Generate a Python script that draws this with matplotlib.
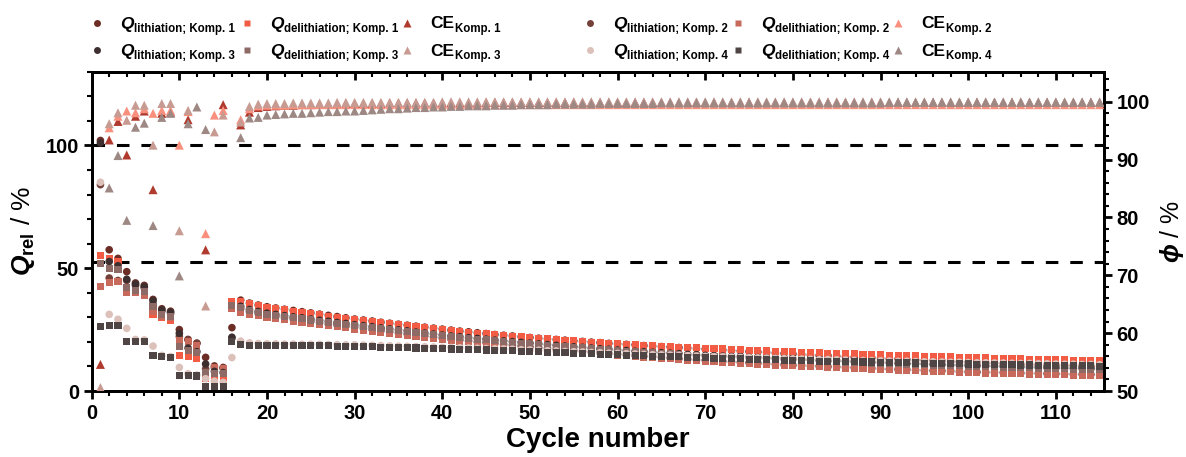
import numpy as np
import matplotlib.pyplot as plt
from matplotlib.lines import Line2D
from matplotlib.ticker import MultipleLocator

plt.rcParams['font.family'] = 'Liberation Sans'
plt.rcParams['font.weight'] = 'bold'
plt.rcParams['mathtext.fontset'] = 'custom'
plt.rcParams['mathtext.rm'] = 'Liberation Sans:bold'
plt.rcParams['mathtext.bf'] = 'Liberation Sans:bold'
plt.rcParams['mathtext.it'] = 'Liberation Sans:italic:bold'

nan = np.nan

# --- data ---
cycles = np.arange(1, 116)

# Q lithiation / delithiation in %, cycle 1..115
ql_k1 = [102.0, 57.5, 54.0, 48.6, 44.0, 43.0, 37.3, 33.5, 32.5, 25.0,
         21.0, 19.5, 13.7, 10.2, 9.6, 25.8, 37.0, 35.8, 35.0, 34.3,
         33.8, 33.3, 32.8, 32.3, 31.8, 31.3, 30.8, 30.3, 29.8, 29.3,
         28.9, 28.5, 28.0, 27.6, 27.2, 26.8, 26.4, 26.0, 25.6, 25.2,
         24.8, 24.4, 24.1, 23.7, 23.4, 23.0, 22.7, 22.4, 22.1, 21.8,
         21.5, 21.2, 21.0, 20.7, 20.4, 20.2, 19.9, 19.7, 19.4, 19.2,
         19.0, 18.8, 18.5, 18.3, 18.1, 17.9, 17.7, 17.5, 17.3, 17.1,
         16.9, 16.7, 16.5, 16.3, 16.1, 15.9, 15.7, 15.5, 15.3, 15.1,
         14.9, 14.7, 14.5, 14.4, 14.2, 14.0, 13.8, 13.7, 13.5, 13.3,
         13.1, 13.0, 12.8, 12.6, 12.5, 12.3, 12.2, 12.0, 11.9, 11.7,
         11.6, 11.4, 11.3, 11.2, 11.0, 10.9, 10.8, 10.7, 10.6, 10.5,
         10.4, 10.3, 10.2, 10.1, 10.0]
qd_k1 = [55.0, 54.0, 52.7, 40.5, 40.5, 39.5, 31.0, 29.8, 28.8, 14.5,
         14.0, 13.3, 5.2, 5.2, 5.2, 36.5, 36.4, 35.5, 34.7, 34.0,
         33.5, 33.0, 32.5, 32.0, 31.5, 31.0, 30.5, 30.0, 29.5, 29.0,
         28.6, 28.2, 27.8, 27.4, 27.0, 26.6, 26.2, 25.8, 25.4, 25.0,
         24.6, 24.3, 23.9, 23.6, 23.2, 22.9, 22.6, 22.3, 22.0, 21.7,
         21.4, 21.2, 20.9, 20.7, 20.4, 20.2, 19.9, 19.7, 19.4, 19.2,
         19.0, 18.8, 18.6, 18.4, 18.2, 18.0, 17.9, 17.7, 17.6, 17.4,
         17.2, 17.1, 16.9, 16.8, 16.6, 16.5, 16.3, 16.2, 16.0, 15.9,
         15.8, 15.7, 15.5, 15.4, 15.3, 15.2, 15.1, 14.9, 14.8, 14.7,
         14.6, 14.5, 14.4, 14.3, 14.2, 14.1, 14.0, 13.9, 13.8, 13.7,
         13.6, 13.5, 13.4, 13.3, 13.2, 13.1, 13.0, 13.0, 12.9, 12.8,
         12.7, 12.6, 12.6, 12.5, 12.4]
ql_k2 = [84.0, 46.0, 45.0, 45.0, 43.0, 42.0, 35.5, 32.5, 31.5, 22.2,
         20.8, 19.4, 9.0, 9.5, 9.2, 21.5, 33.5, 32.3, 31.5, 30.8,
         30.3, 29.8, 29.3, 28.8, 28.3, 27.8, 27.3, 26.9, 26.4, 26.0,
         25.5, 25.0, 24.6, 24.1, 23.7, 23.2, 22.8, 22.4, 21.9, 21.5,
         21.1, 20.8, 20.4, 20.0, 19.7, 19.4, 19.0, 18.7, 18.3, 18.0,
         17.7, 17.4, 17.1, 16.8, 16.5, 16.2, 15.9, 15.6, 15.3, 15.0,
         14.7, 14.5, 14.2, 14.0, 13.7, 13.5, 13.2, 13.0, 12.7, 12.5,
         12.3, 12.1, 11.9, 11.7, 11.5, 11.3, 11.1, 10.9, 10.7, 10.5,
         10.4, 10.2, 10.1, 9.9, 9.8, 9.6, 9.5, 9.3, 9.2, 9.0,
         8.9, 8.8, 8.7, 8.5, 8.4, 8.3, 8.2, 8.1, 7.9, 7.8,
         7.7, 7.6, 7.6, 7.5, 7.4, 7.3, 7.2, 7.2, 7.1, 7.0,
         6.9, 6.8, 6.8, 6.7, 6.6]
qd_k2 = [42.5, 44.0, 44.6, 40.2, 40.0, 38.9, 32.5, 30.5, 30.0, 20.5,
         20.0, 18.5, 7.2, 9.5, 9.0, 33.6, 32.0, 31.3, 30.6, 30.0,
         29.5, 29.0, 28.5, 28.0, 27.5, 27.0, 26.6, 26.1, 25.7, 25.2,
         24.8, 24.3, 23.9, 23.5, 23.1, 22.7, 22.3, 21.9, 21.5, 21.1,
         20.7, 20.3, 20.0, 19.6, 19.3, 18.9, 18.6, 18.3, 17.9, 17.6,
         17.3, 17.0, 16.7, 16.4, 16.1, 15.8, 15.5, 15.2, 14.9, 14.6,
         14.3, 14.1, 13.8, 13.6, 13.3, 13.1, 12.8, 12.6, 12.4, 12.2,
         12.0, 11.8, 11.6, 11.4, 11.2, 11.0, 10.8, 10.6, 10.4, 10.2,
         10.1, 9.9, 9.8, 9.6, 9.5, 9.3, 9.2, 9.0, 8.9, 8.7,
         8.6, 8.5, 8.4, 8.2, 8.1, 8.0, 7.9, 7.8, 7.6, 7.5,
         7.4, 7.3, 7.3, 7.2, 7.1, 7.0, 6.9, 6.9, 6.8, 6.7,
         6.6, 6.5, 6.5, 6.4, 6.3]
ql_k3 = [101.0, 52.7, 51.0, 45.5, 43.5, 42.5, 36.8, 33.0, 32.0, 23.5,
         17.5, 16.0, 11.0, 8.0, 7.5, 21.9, 34.5, 33.2, 32.4, 31.7,
         31.2, 30.7, 30.2, 29.8, 29.3, 28.8, 28.4, 27.9, 27.5, 27.0,
         26.6, 26.2, 25.7, 25.3, 24.9, 24.5, 24.0, 23.6, 23.2, 22.8,
         22.4, 22.1, 21.7, 21.4, 21.1, 20.7, 20.4, 20.1, 19.8, 19.5,
         19.2, 18.9, 18.6, 18.3, 18.0, 17.8, 17.5, 17.2, 17.0, 16.7,
         16.5, 16.2, 16.0, 15.8, 15.6, 15.4, 15.2, 14.9, 14.7, 14.5,
         14.3, 14.2, 14.0, 13.9, 13.7, 13.6, 13.4, 13.3, 13.1, 13.0,
         12.8, 12.7, 12.5, 12.4, 12.3, 12.1, 12.0, 11.9, 11.7, 11.6,
         11.5, 11.4, 11.2, 11.1, 11.0, 10.9, 10.8, 10.6, 10.5, 10.4,
         10.3, 10.2, 10.1, 10.0, 9.9, 9.8, 9.7, 9.6, 9.5, 9.4,
         9.3, 9.2, 9.2, 9.1, 9.0]
qd_k3 = [52.0, 50.0, 49.6, 42.0, 41.0, 40.5, 34.4, 31.0, 30.5, 18.0,
         16.5, 15.8, 7.5, 7.2, 7.0, 35.0, 34.0, 32.8, 32.0, 31.3,
         30.8, 30.3, 29.8, 29.4, 28.9, 28.4, 28.0, 27.5, 27.1, 26.6,
         26.2, 25.8, 25.3, 24.9, 24.5, 24.1, 23.7, 23.3, 22.9, 22.5,
         22.1, 21.8, 21.4, 21.1, 20.8, 20.4, 20.1, 19.8, 19.5, 19.2,
         18.9, 18.6, 18.3, 18.0, 17.7, 17.5, 17.2, 16.9, 16.7, 16.4,
         16.2, 15.9, 15.7, 15.5, 15.3, 15.1, 14.9, 14.6, 14.4, 14.2,
         14.0, 13.9, 13.7, 13.6, 13.4, 13.3, 13.1, 13.0, 12.8, 12.7,
         12.5, 12.4, 12.2, 12.1, 12.0, 11.8, 11.7, 11.6, 11.4, 11.3,
         11.2, 11.1, 10.9, 10.8, 10.7, 10.6, 10.5, 10.3, 10.2, 10.1,
         10.0, 9.9, 9.8, 9.7, 9.6, 9.5, 9.4, 9.3, 9.2, 9.1,
         9.0, 8.9, 8.9, 8.8, 8.7]
ql_k4 = [85.0, 31.2, 29.2, 25.5, 21.0, 20.8, 18.3, 14.5, 14.0, 9.6,
         7.0, 6.5, 5.0, 4.0, 3.5, 13.6, 20.3, 19.6, 19.3, 19.2,
         19.2, 19.1, 19.1, 19.0, 19.0, 19.0, 18.9, 18.9, 18.8, 18.8,
         18.7, 18.6, 18.5, 18.4, 18.3, 18.2, 18.1, 18.0, 17.9, 17.8,
         17.7, 17.6, 17.5, 17.4, 17.3, 17.2, 17.1, 17.0, 16.8, 16.7,
         16.6, 16.4, 16.3, 16.1, 16.0, 15.9, 15.7, 15.6, 15.4, 15.3,
         15.2, 15.1, 14.9, 14.8, 14.7, 14.6, 14.5, 14.4, 14.2, 14.1,
         14.0, 13.9, 13.8, 13.7, 13.6, 13.5, 13.4, 13.3, 13.2, 13.1,
         13.0, 12.9, 12.8, 12.8, 12.7, 12.6, 12.5, 12.4, 12.4, 12.3,
         12.2, 12.1, 12.1, 12.0, 11.9, 11.9, 11.8, 11.7, 11.7, 11.6,
         11.5, 11.5, 11.4, 11.4, 11.3, 11.2, 11.2, 11.1, 11.1, 11.0,
         10.9, 10.9, 10.8, 10.8, 10.7]
qd_k4 = [26.2, 26.6, 26.6, 20.1, 20.1, 20.1, 14.3, 14.0, 13.7, 6.5,
         6.4, 6.1, 1.8, 1.8, 1.8, 20.0, 18.8, 18.7, 18.7, 18.6,
         18.6, 18.6, 18.5, 18.5, 18.5, 18.4, 18.4, 18.3, 18.3, 18.2,
         18.1, 18.0, 17.9, 17.8, 17.7, 17.6, 17.5, 17.4, 17.3, 17.2,
         17.1, 17.0, 16.9, 16.8, 16.7, 16.6, 16.5, 16.4, 16.2, 16.1,
         16.0, 15.8, 15.7, 15.5, 15.4, 15.3, 15.1, 15.0, 14.8, 14.7,
         14.6, 14.5, 14.3, 14.2, 14.1, 14.0, 13.9, 13.8, 13.6, 13.5,
         13.4, 13.3, 13.2, 13.1, 13.0, 12.9, 12.8, 12.7, 12.6, 12.5,
         12.4, 12.3, 12.2, 12.2, 12.1, 12.0, 11.9, 11.8, 11.8, 11.7,
         11.6, 11.5, 11.5, 11.4, 11.3, 11.3, 11.2, 11.1, 11.1, 11.0,
         10.9, 10.9, 10.8, 10.8, 10.7, 10.6, 10.6, 10.5, 10.5, 10.4,
         10.3, 10.3, 10.2, 10.2, 10.1]

# coulombic efficiency (right axis), nan = outside the plotted range
ce_k1 = [54.6, 93.4, 96.6, 90.8, 97.5, 98.4, 84.8, 98.0, 98.2, nan,
         96.9, nan, 74.4, nan, 99.5, nan, 96.0, 98.2, 99.0, 99.2,
         99.3, 99.4, 99.4, 99.5, 99.5, 99.6, 99.6, 99.6, 99.7, 99.7,
         99.7, 99.7, 99.7, 99.8, 99.8, 99.8, 99.8, 99.8, 99.8, 99.8,
         99.8, 99.8, 99.8, 99.8, 99.9, 99.9, 99.9, 99.9, 99.9, 99.9,
         99.9, 99.9, 99.9, 99.9, 99.9, 99.9, 99.9, 99.9, 99.9, 99.9,
         99.9, 99.9, 99.9, 99.9, 99.9, 99.9, 99.9, 99.9, 99.9, 99.9,
         99.9, 99.9, 99.9, 99.9, 99.9, 99.9, 99.9, 99.9, 99.9, 99.9,
         99.9, 99.9, 99.9, 99.9, 99.9, 99.9, 99.9, 99.9, 99.9, 99.9,
         99.9, 99.9, 99.9, 99.9, 99.9, 99.9, 99.9, 99.9, 99.9, 99.9,
         99.9, 99.9, 99.9, 99.9, 99.9, 99.9, 99.9, 99.9, 99.9, 99.9,
         99.9, 99.9, 99.9, 99.9, 99.9]
ce_k2 = [nan, 95.5, 97.5, 98.4, 98.1, 98.8, 98.0, 98.5, 98.5, 92.5,
         98.3, nan, 77.2, 97.7, 98.5, nan, 96.9, 98.8, 99.3, 99.4,
         99.4, 99.4, 99.5, 99.5, 99.5, 99.5, 99.5, 99.5, 99.5, 99.5,
         99.5, 99.5, 99.5, 99.5, 99.5, 99.5, 99.5, 99.5, 99.5, 99.5,
         99.5, 99.5, 99.5, 99.5, 99.5, 99.5, 99.5, 99.5, 99.5, 99.5,
         99.5, 99.5, 99.5, 99.5, 99.5, 99.5, 99.5, 99.5, 99.5, 99.5,
         99.5, 99.5, 99.5, 99.5, 99.5, 99.5, 99.5, 99.5, 99.5, 99.5,
         99.5, 99.5, 99.5, 99.5, 99.5, 99.5, 99.5, 99.5, 99.5, 99.5,
         99.5, 99.5, 99.5, 99.5, 99.5, 99.5, 99.5, 99.5, 99.5, 99.5,
         99.5, 99.5, 99.5, 99.5, 99.5, 99.5, 99.5, 99.5, 99.5, 99.5,
         99.5, 99.5, 99.5, 99.5, 99.5, 99.5, 99.5, 99.5, 99.5, 99.5,
         99.5, 99.5, 99.5, 99.5, 99.5]
ce_k3 = [50.6, 96.2, 98.1, 96.8, 99.4, 99.4, 92.5, 99.7, 99.7, 77.7,
         98.5, nan, 64.7, 94.8, 97.7, nan, 96.5, 99.2, 99.6, 99.7,
         99.7, 99.7, 99.8, 99.8, 99.8, 99.8, 99.8, 99.9, 99.9, 99.9,
         99.9, 99.9, 99.9, 99.9, 99.9, 99.9, 99.9, 99.9, 99.9, 100.0,
         100.0, 100.0, 100.0, 100.0, 100.0, 100.0, 100.0, 100.0, 100.0, 100.0,
         100.0, 100.0, 100.0, 100.0, 100.0, 100.0, 100.0, 100.0, 100.0, 100.0,
         100.0, 100.0, 100.0, 100.0, 100.0, 100.0, 100.0, 100.0, 100.0, 100.0,
         100.0, 100.0, 100.0, 100.0, 100.0, 100.0, 100.0, 100.0, 100.0, 100.0,
         100.0, 100.0, 100.0, 100.0, 100.0, 100.0, 100.0, 100.0, 100.0, 100.0,
         100.0, 100.0, 100.0, 100.0, 100.0, 100.0, 100.0, 100.0, 100.0, 100.0,
         100.0, 100.0, 100.0, 100.0, 100.0, 100.0, 100.0, 100.0, 100.0, 100.0,
         100.0, 100.0, 100.0, 100.0, 100.0]
ce_k4 = [nan, 85.1, 90.7, 79.5, 95.6, 96.3, 78.6, 97.3, 98.0, 69.9,
         96.2, 99.1, 95.2, nan, nan, nan, 93.8, 97.2, 97.3, 97.7,
         97.8, 97.9, 98.0, 98.0, 98.1, 98.2, 98.3, 98.3, 98.4, 98.4,
         98.5, 98.6, 98.7, 98.8, 98.8, 98.9, 99.0, 99.0, 99.1, 99.1,
         99.2, 99.2, 99.3, 99.3, 99.3, 99.4, 99.4, 99.4, 99.5, 99.5,
         99.5, 99.5, 99.6, 99.6, 99.6, 99.6, 99.6, 99.7, 99.7, 99.7,
         99.7, 99.7, 99.7, 99.7, 99.8, 99.8, 99.8, 99.8, 99.8, 99.8,
         99.8, 99.8, 99.8, 99.8, 99.8, 99.8, 99.8, 99.8, 99.8, 99.8,
         99.8, 99.8, 99.8, 99.8, 99.8, 99.8, 99.8, 99.8, 99.8, 99.8,
         99.9, 99.9, 99.9, 99.9, 99.9, 99.9, 99.9, 99.9, 99.9, 99.9,
         99.9, 99.9, 99.9, 99.9, 99.9, 99.9, 99.9, 99.9, 99.9, 99.9,
         99.9, 99.9, 99.9, 99.9, 99.9]

ref_lines = [100, 52.4]  # dashed guide lines (left axis units)

# colours: lithiation circle, delithiation square, CE triangle
colors = {
    1: ('#6b2d25', '#f25c45', '#b03a2e'),
    2: ('#74403a', '#c76a5c', '#f9907e'),
    3: ('#3d2f2f', '#8e6a66', '#c79a92'),
    4: ('#dcc0ba', '#4f4545', '#9e8884'),
}
q_lith = {1: ql_k1, 2: ql_k2, 3: ql_k3, 4: ql_k4}
q_delith = {1: qd_k1, 2: qd_k2, 3: qd_k3, 4: qd_k4}
ce = {1: ce_k1, 2: ce_k2, 3: ce_k3, 4: ce_k4}

W, H = 1186, 457
fig = plt.figure(figsize=(W / 100, H / 100), dpi=100)
ax = fig.add_axes([0.0773, 0.1444, 0.8536, 0.6987])
ax2 = ax.twinx()

for y in ref_lines:
    ax.axhline(y, color='black', lw=2.2, ls=(0, (4.1, 3.9)), zorder=1)

for k in [1, 2, 3, 4]:
    c_l, c_d, c_ce = colors[k]
    ax.scatter(cycles, q_lith[k], marker='o', s=30, color=c_l,
               edgecolors='none', zorder=3)
    ax.scatter(cycles, q_delith[k], marker='s', s=26, color=c_d,
               edgecolors='none', zorder=3)
    ax2.scatter(cycles, ce[k], marker='^', s=42, color=c_ce,
                edgecolors='none', zorder=3)

# legend drawn by hand: big symbol + small bold subscript
# rows: komp 1/2 on top, 3/4 below; marker x positions in pixels
leg_rows = [(22.7, 28.5, [1, 2]), (50.0, 55.8, [3, 4])]
leg_cols = [97, 247, 407, 590, 738, 898]
renderer = fig.canvas.get_renderer()


def fx(px):
    return px / W


def fy(py):
    return 1 - py / H


for y_mk, y_base, komps in leg_rows:
    for half, k in enumerate(komps):
        entries = [('o', 5, 'Q', 'italic', 'lithiation; Komp. %d' % k),
                   ('s', 5, 'Q', 'italic', 'delithiation; Komp. %d' % k),
                   ('^', 6, 'CE', 'normal', 'Komp. %d' % k)]
        for j, (mk, ms, main, st, sub) in enumerate(entries):
            mx = leg_cols[half * 3 + j]
            fig.add_artist(Line2D([fx(mx)], [fy(y_mk)], transform=fig.transFigure,
                                  ls='none', marker=mk, ms=ms, mec='none',
                                  color=colors[k][j]))
            t = fig.text(fx(mx + 23), fy(y_base), main, fontsize=12.5,
                         fontstyle=st, fontweight='bold', va='baseline')
            x1 = t.get_window_extent(renderer).x1
            fig.text(x1 / W + 0.0005, fy(y_base + 3.4), sub, fontsize=8.3,
                     fontweight='bold', va='baseline')

ax.set_xlim(0, 115.5)
ax.set_ylim(0, 130)
ax2.set_ylim(50, 105.2)

ax.xaxis.set_major_locator(MultipleLocator(10))
ax.xaxis.set_minor_locator(MultipleLocator(2))
ax.yaxis.set_major_locator(MultipleLocator(50))
ax.yaxis.set_minor_locator(MultipleLocator(10))
ax2.yaxis.set_major_locator(MultipleLocator(10))
ax2.yaxis.set_minor_locator(MultipleLocator(2))

for a in (ax, ax2):
    a.tick_params(which='major', direction='out', length=6, width=2,
                  labelsize=14.5, pad=3)
    a.tick_params(which='minor', direction='out', length=3.5, width=1.5)
    for sp in a.spines.values():
        sp.set_linewidth(2)

top = ax.secondary_xaxis('top')
top.xaxis.set_major_locator(MultipleLocator(10))
top.xaxis.set_minor_locator(MultipleLocator(2))
top.tick_params(which='major', direction='in', length=6, width=2, labeltop=False)
top.tick_params(which='minor', direction='in', length=3.5, width=1.5)
top.spines['top'].set_linewidth(2)

ax.set_xlabel('Cycle number', fontsize=20, fontweight='bold', labelpad=3)
ax.set_ylabel(r'$\mathit{Q}_{\mathrm{rel}}$ / %', fontsize=19, labelpad=6)
ax2.set_ylabel(r'$\phi$ / %', fontsize=18, labelpad=6)

fig.savefig('out.png', dpi=100)
